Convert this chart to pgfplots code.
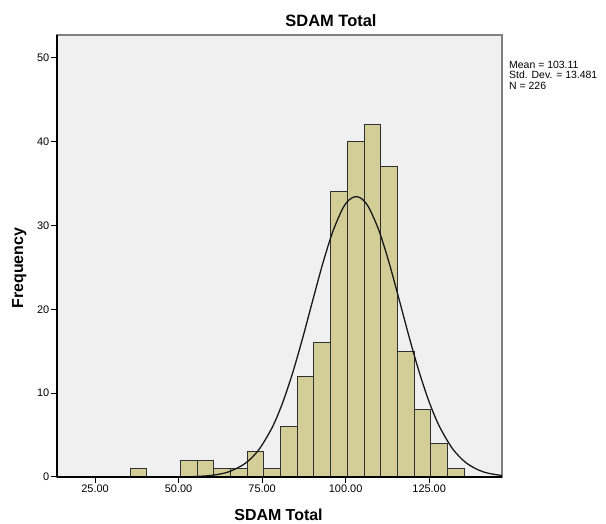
\documentclass[border=0pt]{standalone}
\usepackage{fontspec}
\setmainfont{Liberation Sans}
\usepackage{pgfplots}
\pgfplotsset{compat=1.18}
\definecolor{barfill}{HTML}{D3CE97}
\definecolor{bgfill}{HTML}{F0F0F0}
\definecolor{edge}{HTML}{303030}
\definecolor{framegray}{HTML}{808080}
\begin{document}
\begin{tikzpicture}[x=1bp,y=1bp]
\useasboundingbox (0,0) rectangle (606,524);
\begin{axis}[
  at={(57bp,47bp)}, anchor=south west,
  scale only axis, width=445bp, height=442bp,
  xmin=13.6, xmax=146.8, ymin=0, ymax=52.7,
  axis x line=bottom, axis y line=left,
  axis line style={-, black, line width=1.2bp},
  axis background/.style={fill=bgfill, draw=framegray, line width=1.6bp},
  xtick={25,50,75,100,125},
  xticklabels={25.00,50.00,75.00,100.00,125.00},
  ytick={0,10,20,30,40,50},
  minor tick num=0,
  tick align=outside, major tick length=6bp,
  tick style={black, line width=1bp},
  ticklabel style={font=\fontsize{11}{13}\selectfont},
  /pgf/number format/assume math mode=true,
  xticklabel style={inner sep=2bp},
  yticklabel style={inner sep=1.5bp},
  axis on top,
]
\addplot[ybar, bar width=5, bar shift=0pt, fill=barfill, draw=edge, line width=0.9bp]
  coordinates {(38,1)};
\addplot[ybar, bar width=5, bar shift=0pt, fill=barfill, draw=edge, line width=0.9bp]
  coordinates {(53,2)(58,2)(63,1)(68,1)(73,3)(78,1)(83,6)(88,12)(93,16)(98,34)
    (103,40)(108,42)(113,37)(118,15)(123,8)(128,4)(133,1)};
\addplot[color=black!90, line width=1.3bp, smooth, mark=none] coordinates {
  (14,0)(40,0.0006)(50,0.0143)(55,0.057)(60,0.201)(65,0.615)(70,1.639)(74,3.249)
  (78,5.901)(81,8.712)(84,12.244)(87,16.375)(90,20.840)(93,25.243)(96,29.098)
  (99,31.922)(101,33.033)(103.11,33.44)(105,33.113)(107,32.076)(110,29.346)
  (113,25.550)(116,21.171)(119,16.695)(122,12.529)(125,8.948)(128,6.083)
  (132,3.366)(136,1.705)(140,0.791)(143,0.420)(146.8,0.175)};
\end{axis}
\node[anchor=base, font=\bfseries\fontsize{16.5}{18}\selectfont, inner sep=0] at (331,497) {SDAM Total};
\node[anchor=base, font=\bfseries\fontsize{16}{18}\selectfont, inner sep=0] at (278.5,3.5) {SDAM Total};
\node[rotate=90, anchor=base, font=\bfseries\fontsize{16}{18}\selectfont, inner sep=0] at (23,256) {Frequency};
\node[anchor=north west, align=left, font=\fontsize{10.5}{10.5}\selectfont, inner sep=0] at (509,463) {Mean = 103.11\\Std. Dev. = 13.481\\N = 226};
\end{tikzpicture}
\end{document}
